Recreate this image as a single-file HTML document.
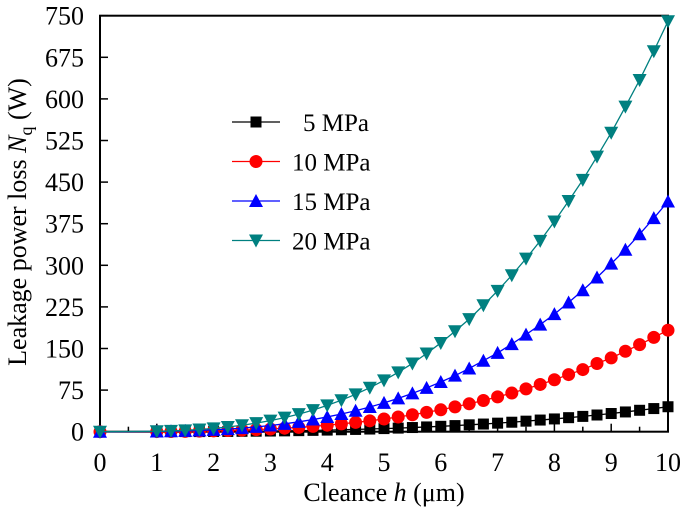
<!DOCTYPE html>
<html><head><meta charset="utf-8"><style>
body{margin:0;background:#fff}
svg text{font-family:"Liberation Serif",serif;fill:#000}
</style></head><body>
<svg id="c" width="685" height="511" xmlns="http://www.w3.org/2000/svg"></svg>
<script>
const xs=[0,1,1.25,1.5,1.75,2,2.25,2.5,2.75,3,3.25,3.5,3.75,4,4.25,4.5,4.75,5,5.25,5.5,5.75,6,6.25,6.5,6.75,7,7.25,7.5,7.75,8,8.25,8.5,8.75,9,9.25,9.5,9.75,10];
const s5=[0,0,0.1,0.2,0.2,0.4,0.5,0.7,0.9,1.2,1.5,1.9,2.4,2.9,3.5,4.1,4.8,5.6,6.5,7.5,8.6,9.7,11,12.4,13.8,15.4,17.1,19,21,23,25.3,27.6,30.1,32.8,35.6,38.6,41.7,45];
const s10=[0,0.2,0.4,0.6,1.0,1.5,2.1,2.9,3.8,4.9,6.3,7.8,9.6,11.7,14.1,16.7,19.6,22.9,26.5,30.5,34.8,39.5,44.7,50.3,56.3,62.8,69.7,77.2,85.2,93.7,103,112,123,133,145,157,170,183];
const s15=[0,0.4,0.8,1.4,2.2,3.3,4.7,6.5,8.6,11.2,14.2,17.8,21.9,26.6,31.9,37.8,44.5,51.9,60.0,69.1,78.9,89.6,101,114,128,142,158,175,193,212,233,255,278,303,328,356,385,415];
const s20=[0,0.7,1.4,2.5,4.0,5.9,8.4,11.6,15.4,20.0,25.4,31.7,39.0,47.4,56.8,67.4,79.3,92.5,107,123,141,160,181,203,228,254,282,312,344,379,416,454,496,539,586,634,686,740];
const xTicks=[0,1,2,3,4,5,6,7,8,9,10];
const yTicks=[0,75,150,225,300,375,450,525,600,675,750];
const names=["5 MPa","10 MPa","15 MPa","20 MPa"];
const NS="http://www.w3.org/2000/svg";
const svg=document.getElementById('c');
const L=100,R=668,T=15.7,B=431.7;
const X=v=>L+(R-L)*v/10, Y=v=>B-(B-T)*v/750;
function mk(tag,attrs,parent){const e=document.createElementNS(NS,tag);for(const k in attrs)e.setAttribute(k,attrs[k]);(parent||svg).appendChild(e);return e;}
const frame=mk('rect',{x:L,y:T,width:R-L,height:B-T,fill:'none',stroke:'#000','stroke-width':2});


xTicks.forEach(t=>{
 const l=mk('line',{x1:X(t),x2:X(t),y1:B,y2:B-8,stroke:'#000','stroke-width':1.5});
 
 
 if(t<10){const m=mk('line',{x1:X(t+0.5),x2:X(t+0.5),y1:B,y2:B-5,stroke:'#000','stroke-width':1.5});
 
 }
 const tx=mk('text',{x:X(t),y:471,'text-anchor':'middle','font-size':26});tx.textContent=t;
 
 
});
yTicks.forEach(t=>{
 const l=mk('line',{x1:L,x2:L+8,y1:Y(t),y2:Y(t),stroke:'#000','stroke-width':1.5});
 
 
 const tx=mk('text',{x:84,y:Y(t)+9,'text-anchor':'end','font-size':26});tx.textContent=t;
 
 
});
const xt=mk('text',{x:384,y:501,'text-anchor':'middle','font-size':26});
xt.innerHTML='Cleance <tspan font-style="italic">h</tspan> (μm)';


const yt=mk('text',{x:0,y:0,'text-anchor':'middle','font-size':26,transform:'translate(26,222) rotate(-90)'});
yt.innerHTML='Leakage power loss <tspan font-style="italic">N</tspan><tspan font-size="18" dy="6">q</tspan><tspan dy="-6"> (W)</tspan>';


const colors=['#000000','#ff0000','#0000ff','#008080'];
const series=[s5,s10,s15,s20];
function marker(i,x,y,g){
 if(i===0)return mk('rect',{x:x-5.5,y:y-5.5,width:11,height:11,fill:colors[i]},g);
 if(i===1)return mk('circle',{cx:x,cy:y,r:6.5,fill:colors[i]},g);
 if(i===2)return mk('polygon',{points:`${x},${y-7} ${x-7},${y+6} ${x+7},${y+6}`,fill:colors[i]},g);
 return mk('polygon',{points:`${x},${y+7} ${x-7},${y-6} ${x+7},${y-6}`,fill:colors[i]},g);
}
series.forEach((s,i)=>{
 const g=mk('g',{});
 
 
 const p=mk('polyline',{points:xs.map((x,j)=>X(x)+','+Y(s[j])).join(' '),fill:'none',stroke:colors[i],'stroke-width':1.3},g);
 
 
 xs.forEach((x,j)=>{const m=marker(i,X(x),Y(s[j]),g);
  
  });
});
names.forEach((n,i)=>{
 const g=mk('g',{});
 
 
 const y=122+i*39.5;
 mk('line',{x1:232,x2:280,y1:y,y2:y,stroke:colors[i],'stroke-width':1.3},g);
 marker(i,256,y,g);
 const t=mk('text',{x:i===0?303:292,y:y+9,'font-size':25},g);t.textContent=n;
});
</script>
</body></html>
